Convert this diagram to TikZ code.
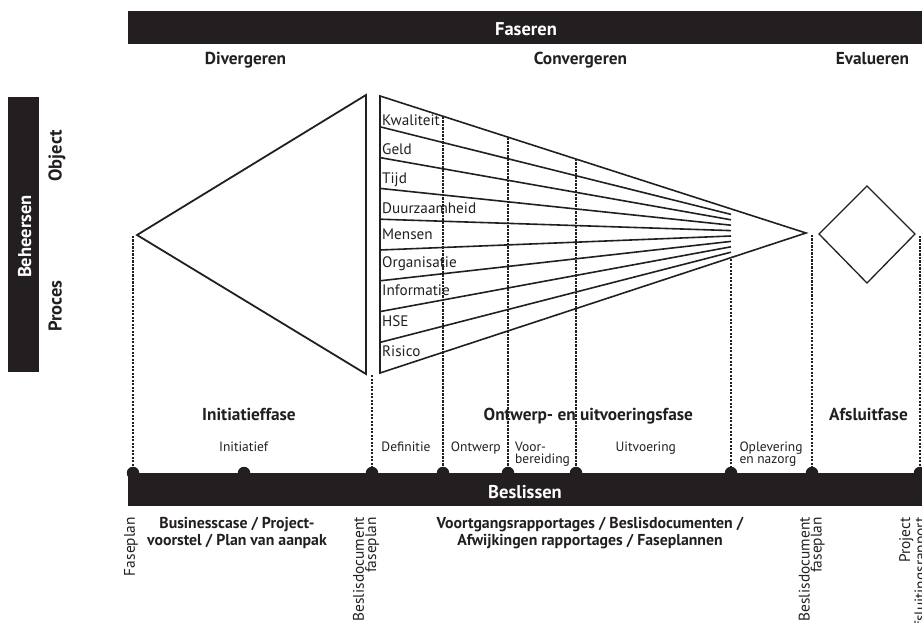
\documentclass[tikz,border=0pt]{standalone}
\usepackage{fontspec}
\setmainfont{PT Sans}
\definecolor{barcol}{HTML}{231F20}
\begin{document}
\begin{tikzpicture}[x=1pt,y=-1pt,
  bar/.style={fill=barcol, draw=none, inner sep=0pt},
  bartext/.style={text=white, font=\fontsize{18.5}{20}\selectfont\bfseries, inner sep=0pt},
  head/.style={text=barcol, font=\fontsize{17.3}{19}\selectfont\bfseries, inner sep=0pt},
  side/.style={text=barcol, font=\fontsize{18.5}{20}\selectfont\bfseries, inner sep=0pt, rotate=90, text depth=0pt},
  flab/.style={text=barcol, font=\fontsize{15.2}{17}\selectfont, inner sep=0pt, anchor=base west},
  slab/.style={text=barcol, font=\fontsize{13.5}{12.4}\selectfont, inner sep=0pt, align=left},
  blab/.style={text=barcol, font=\fontsize{15.8}{17}\selectfont\bfseries, inner sep=0pt, align=center},
  rlab/.style={text=barcol, font=\fontsize{15.4}{12.2}\selectfont, inner sep=0pt, rotate=90, anchor=east, align=right},
  shape line/.style={draw=barcol, line width=1.8pt, line join=miter},
  dotline/.style={draw=barcol, line width=2.4pt, dash pattern=on 2.2pt off 1.3pt},
  dot/.style={circle, fill=barcol, minimum size=12.5pt, inner sep=0pt}
]
\useasboundingbox (0,0) rectangle (922,623);

% top bar
\node[bar, minimum width=794pt, minimum height=33pt] (faseren) at (525,27.5) {};
\node[bartext, anchor=base] (faserenT) at (526,35.5) {Faseren};

% headers
\node[head, anchor=base] (div) at (245.5,65) {Divergeren};
\node[head, anchor=base] (conv) at (580.5,65) {Convergeren};
\node[head, anchor=base] (eval) at (872.5,65) {Evalueren};

% left bar
\node[bar, minimum width=275pt, minimum height=31pt, rotate=90] (beheersen) at (23.5,234.5) {};
\node[side, text=white] (beheersenT) at (24.5,236.5) {Beheersen};
\node[side] (object) at (55,156) {Object};
\node[side] (proces) at (55,306) {Proces};

% left triangle
\coordinate (lA) at (137,235);
\coordinate (lT) at (366,95);
\coordinate (lB) at (366,374);
\draw[shape line] (lA) -- (lT) -- (lB) -- cycle;

% funnel
\coordinate (fTL) at (380,96);
\coordinate (fBL) at (380,373);
\coordinate (fApex) at (806,233);
\draw[shape line, line width=1.6pt] (fTL) -- (fApex) -- (fBL) -- cycle;
\foreach \i in {1,...,8}{
  \draw[shape line, line width=1.6pt] (380,{96+30.8*\i}) -- (731,{209+5.4*\i});
}
\node[flab] (kw) at (382,126) {Kwaliteit};
\node[flab] (ge) at (382,155) {Geld};
\node[flab] (ti) at (382,183.5) {Tijd};
\node[flab] (du) at (382,213.5) {Duurzaamheid};
\node[flab] (me) at (382,240) {Mensen};
\node[flab] (or) at (382,267.5) {Organisatie};
\node[flab] (in) at (382,295) {Informatie};
\node[flab] (hs) at (382,326.5) {HSE};
\node[flab] (ri) at (382,356) {Risico};

% diamond
\draw[draw=barcol, line width=1.3pt, line join=miter] (867,186) -- (915,234) -- (867,283) -- (819,234) -- cycle;

% dotted lines and dots
\coordinate (t1) at (133,236);
\coordinate (t2) at (372,375);
\coordinate (t3) at (443,117);
\coordinate (t4) at (508,138);
\coordinate (t5) at (576,159);
\coordinate (t6) at (731,259);
\coordinate (t7) at (812,235);
\coordinate (t8) at (920,236);
\node[dot] (d1) at (133,473) {};
\node[dot] (d0) at (244,473) {};
\node[dot] (d2) at (372,473) {};
\node[dot] (d3) at (443,473) {};
\node[dot] (d4) at (508,473) {};
\node[dot] (d5) at (576,473) {};
\node[dot] (d6) at (731,473) {};
\node[dot] (d7) at (812,473) {};
\node[dot] (d8) at (920,473) {};
\foreach \k in {1,...,8}{ \draw[dotline] (t\k) -- (d\k.center); }

% phase labels
\node[head, anchor=base] (ini) at (249,420) {Initiatieffase};
\node[head, anchor=base] (ouf) at (588.3,420) {Ontwerp- en uitvoeringsfase};
\node[head, anchor=base] (afs) at (868.5,420) {Afsluitfase};

\node[slab, anchor=base] (s1) at (243.7,451.5) {Initiatief};
\node[slab, anchor=base] (s2) at (406,451.5) {Definitie};
\node[slab, anchor=base] (s3) at (475.8,451.5) {Ontwerp};
\node[slab, anchor=base west] (s4) at (515,463.5) {Voor-\\bereiding};
\node[slab, anchor=base] (s5) at (645.8,451.5) {Uitvoering};
\node[slab, anchor=base west] (s6) at (739.3,463.5) {Oplevering\\en nazorg};

% bottom bar
\node[bar, minimum width=794pt, minimum height=33pt] (beslissen) at (525,489.5) {};
\node[bartext, anchor=base] (beslissenT) at (525,498.3) {Beslissen};

% bottom texts
\node[rlab] (r1) at (131,517) {Faseplan};
\node[rlab] (r2) at (366,517) {Beslisdocument\\faseplan};
\node[rlab] (r3) at (811.7,517) {Beslisdocument\\faseplan};
\node[rlab] (r4) at (914,517) {Project\\afsluitingsrapport};
\node[blab, anchor=base] (b1) at (237,545) {Businesscase / Project-\\voorstel / Plan van aanpak};
\node[blab, anchor=base] (b2) at (590,545) {Voortgangsrapportages / Beslisdocumenten /\\Afwijkingen rapportages / Faseplannen};
\end{tikzpicture}
\end{document}
